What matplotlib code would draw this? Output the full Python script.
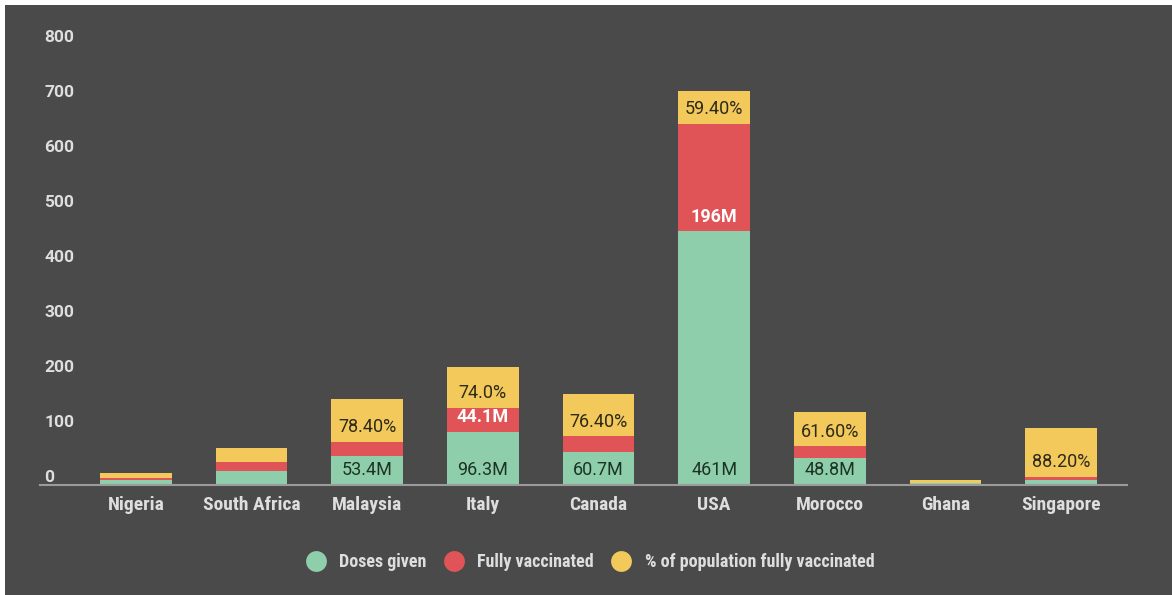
import matplotlib.pyplot as plt
import numpy as np
from matplotlib.patches import Rectangle
from matplotlib.lines import Line2D
import matplotlib.transforms as mtrans

# Data (millions / percent, stacked as in the original)
countries = ['Nigeria', 'South Africa', 'Malaysia', 'Italy', 'Canada', 'USA', 'Morocco', 'Ghana', 'Singapore']
doses = [9, 25, 53.4, 96.3, 60.7, 461, 48.8, 3, 10]
fully = [4, 16, 25, 44.1, 28, 196, 22, 1, 5]
pct = [8, 26, 78.4, 74.0, 76.4, 59.4, 61.6, 5, 88.2]

doses_lbl = ['', '', '53.4M', '96.3M', '60.7M', '461M', '48.8M', '', '']
fully_lbl = ['', '', '', '44.1M', '', '196M', '', '', '']
pct_lbl = ['', '', '78.40%', '74.0%', '76.40%', '59.40%', '61.60%', '', '88.20%']

series = ['Doses given', 'Fully vaccinated', '% of population fully vaccinated']
yticks = [0, 100, 200, 300, 400, 500, 600, 700, 800]

BG = '#4a4a4a'
GREEN = '#8fceab'
RED = '#e05458'
YELLOW = '#f3c95c'
TXT = '#dedede'

plt.rcParams['font.family'] = ['Roboto Condensed', 'Roboto', 'DejaVu Sans']
LBL_FONT = ['Roboto', 'DejaVu Sans']

fig = plt.figure(figsize=(11.72, 5.95), dpi=100)
fig.patch.set_facecolor('white')
fig.patches.append(Rectangle((5 / 1172, 0), 1, 1 - 5 / 595, transform=fig.transFigure,
                             facecolor=BG, edgecolor='none', zorder=-10))

ax = fig.add_axes([40 / 1172, 110 / 595, 1087 / 1172, 440 / 595])
ax.set_facecolor('none')

x = np.arange(len(countries))
w = 0.62
doses = np.array(doses)
fully = np.array(fully)
pct = np.array(pct)

ax.bar(x, doses, w, color=GREEN, label=series[0])
ax.bar(x, fully, w, bottom=doses, color=RED, label=series[1])
ax.bar(x, pct, w, bottom=doses + fully, color=YELLOW, label=series[2])

# labels sit a little above the bottom of each segment
off = mtrans.offset_copy(ax.transData, fig=fig, x=0, y=4, units='points')
for i in range(len(countries)):
    if doses_lbl[i]:
        ax.text(x[i], 0, doses_lbl[i], transform=off, ha='center', va='bottom',
                fontsize=13, color='#1d3326', family=LBL_FONT)
    if fully_lbl[i]:
        ax.text(x[i], doses[i], fully_lbl[i], transform=off, ha='center', va='bottom',
                fontsize=13, color='white', fontweight='bold', family=LBL_FONT)
    if pct_lbl[i]:
        ax.text(x[i], doses[i] + fully[i], pct_lbl[i], transform=off, ha='center', va='bottom',
                fontsize=13, color='#2e2a18', family=LBL_FONT)

ax.set_xlim(-0.83, 8.57)
ax.set_ylim(0, 800)
ax.set_xticks(x)
ax.set_xticklabels(countries, fontsize=14, fontweight='bold', color=TXT)
ax.set_yticks(yticks)
ax.set_yticklabels([str(t) for t in yticks], fontsize=12.5, fontweight='bold', color=TXT,
                   family=LBL_FONT)
for lab in ax.get_yticklabels():
    lab.set_horizontalalignment('left')
    lab.set_verticalalignment('bottom')
ax.tick_params(axis='y', length=0, pad=-3)
ax.tick_params(axis='x', length=0, pad=8)

for s in ['top', 'right', 'left']:
    ax.spines[s].set_visible(False)
ax.spines['bottom'].set_color('#9b9b9b')
ax.spines['bottom'].set_linewidth(1.5)

handles = [Line2D([], [], marker='o', linestyle='none', markersize=15, color=c, markeredgecolor='none')
           for c in [GREEN, RED, YELLOW]]
leg = fig.legend(handles, series, loc='center', bbox_to_anchor=(0.5, 33 / 595), ncol=3,
                 frameon=False, handletextpad=0.3, columnspacing=0.5,
                 prop={'size': 13, 'weight': 'bold'})
for t in leg.get_texts():
    t.set_color(TXT)

fig.savefig('out.png', dpi=100, facecolor=fig.get_facecolor())
